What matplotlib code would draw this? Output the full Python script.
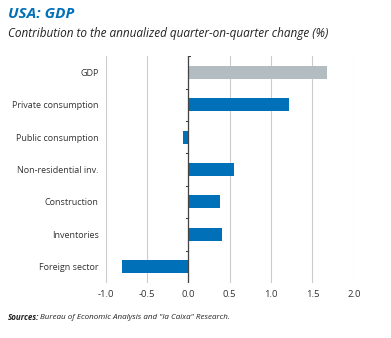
import matplotlib.pyplot as plt
import numpy as np

plt.rcParams['font.family'] = ['Open Sans', 'DejaVu Sans']

categories = ['GDP', 'Private consumption', 'Public consumption', 'Non-residential inv.',
              'Construction', 'Inventories', 'Foreign sector']
values = [1.67, 1.22, -0.07, 0.55, 0.38, 0.41, -0.80]
xticks = [-1.0, -0.5, 0.0, 0.5, 1.0, 1.5, 2.0]

BLUE = '#0070b8'
GREY = '#b3bcc0'

fig = plt.figure(figsize=(3.91, 3.38), dpi=100)
ax = fig.add_axes([0.27, 0.163, 0.635, 0.671])

y = np.arange(len(categories))
colors = [GREY] + [BLUE] * (len(categories) - 1)
ax.barh(y, values, height=0.4, color=colors, zorder=3)
ax.set_ylim(len(categories) - 0.5, -0.5)
ax.set_xlim(-1.0, 2.0)

ax.set_xticks(xticks)
ax.set_xticklabels([f'{t:.1f}' for t in xticks], fontsize=6.8, color='#333333')
ax.set_yticks(y)
ax.set_yticklabels(categories, fontsize=6.5, color='#333333')
ax.tick_params(axis='both', length=0, pad=5)
ax.xaxis.grid(True, color='#cccccc', linewidth=0.8, zorder=0)

for s in ax.spines.values():
    s.set_visible(False)

# zero line with small ticks between categories
ax.axvline(0, color='#444444', linewidth=0.9, zorder=4)
for b in np.arange(0.5, len(categories) - 1, 1.0):
    ax.plot([-0.025, 0], [b, b], color='#444444', linewidth=0.8, zorder=4, clip_on=False)
ax.plot([0, 0.025], [-0.5, -0.5], color='#444444', linewidth=0.8, zorder=4)

fig.text(0.02, 0.958, 'USA: GDP', fontsize=11, fontweight='bold', fontstyle='italic',
         color=BLUE, va='center')
fig.text(0.02, 0.902, 'Contribution to the annualized quarter-on-quarter change (%)',
         fontsize=8.5, fontstyle='italic', color='#222222', va='center')

src = fig.text(0.02, 0.06, 'Sources:', fontsize=5.8, fontweight='bold', fontstyle='italic',
               color='#222222', va='center')
renderer = fig.canvas.get_renderer()
bb = src.get_window_extent(renderer=renderer)
x_next = fig.transFigure.inverted().transform((bb.x1 + 1, 0))[0]
fig.text(x_next, 0.06, 'Bureau of Economic Analysis and "la Caixa" Research.',
         fontsize=5.8, fontstyle='italic', color='#222222', va='center')
fig.savefig('out.png', dpi=100)
